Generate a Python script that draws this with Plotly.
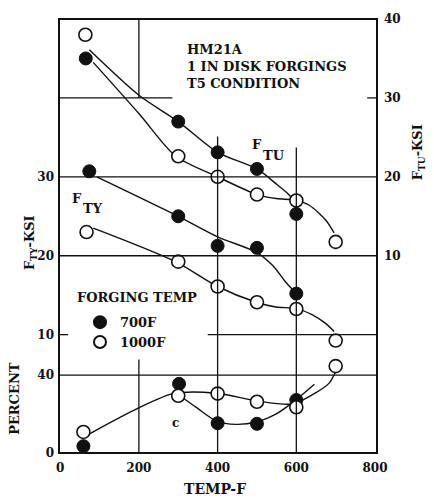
import plotly.graph_objects as go

# ---------------- data ----------------
temp_pts = [65, 300, 400, 500, 600]
temp_pts_open = [64, 300, 400, 500, 600, 700]

# F_TU (ksi) measured points
ftu_700 = [35.0, 27.0, 23.1, 21.0, 15.3]
ftu_1000 = [38.0, 22.6, 20.0, 17.75, 17.0, 11.75]
# F_TY (ksi) measured points
fty_700 = [30.7, 25.0, 21.25, 21.0, 15.2]
fty_1000 = [23.0, 19.25, 16.1, 14.1, 13.25, 9.25]
# elongation (percent) measured points
pct_700 = [3.5, 35.5, 15.3, 15.0, 27.2]
pct_1000 = [10.8, 29.4, 30.5, 26.3, 23.5, 44.6]

# faired curves drawn through the points
ftu_700_ct = [74, 201, 300, 400, 500, 549, 578, 595]
ftu_700_cv = [36.1, 30.3, 27.0, 23.1, 21.0, 19.1, 17.9, 17.0]
ftu_1000_ct = [84, 202, 294, 400, 500, 549, 600, 633, 675, 696]
ftu_1000_cv = [34.5, 27.9, 22.6, 20.0, 17.75, 17.25, 17.0, 16.4, 14.5, 12.9]
fty_700_ct = [93, 300, 400, 500, 540, 574, 600]
fty_700_cv = [30.0, 25.0, 22.4, 20.4, 18.75, 16.6, 15.2]
fty_1000_ct = [84, 295, 400, 498, 548, 600, 641, 675, 696]
fty_1000_cv = [23.5, 19.2, 16.1, 14.1, 13.5, 13.3, 12.5, 11.4, 10.4]
pct_1000_ct = [76, 202, 287, 397, 498, 591, 650, 684, 700]
pct_1000_cv = [10.0, 23.4, 30.5, 30.7, 26.8, 25.2, 31.0, 36.0, 42.0]
pct_700_ct = [304, 346, 397, 447, 498, 549, 591, 646]
pct_700_cv = [29.4, 23.4, 16.4, 14.7, 15.9, 20.1, 26.0, 35.3]

x_ticks = [0, 200, 400, 600, 800]
fty_ticks = [10, 20, 30]
ftu_ticks = [10, 20, 30, 40]
pct_ticks = [0, 40]

FONT = "DejaVu Serif"
INK = "#111111"

fig = go.Figure()

line_style = dict(color=INK, width=1.4, shape="spline", smoothing=0.8)
for xs, ys, ax in [(ftu_700_ct, ftu_700_cv, "y2"), (ftu_1000_ct, ftu_1000_cv, "y2"),
                   (fty_700_ct, fty_700_cv, "y"), (fty_1000_ct, fty_1000_cv, "y"),
                   (pct_1000_ct, pct_1000_cv, "y3"), (pct_700_ct, pct_700_cv, "y3")]:
    fig.add_trace(go.Scatter(x=xs, y=ys, yaxis=ax, mode="lines", line=line_style,
                             showlegend=False, hoverinfo="skip"))

filled = dict(symbol="circle", size=13, color=INK, line=dict(color=INK, width=1))
opened = dict(symbol="circle", size=13, color="white", line=dict(color=INK, width=1.6))

fig.add_trace(go.Scatter(x=temp_pts, y=ftu_700, yaxis="y2", mode="markers", marker=filled,
                         name="700F", legendgroup="a", showlegend=True))
fig.add_trace(go.Scatter(x=temp_pts_open, y=ftu_1000, yaxis="y2", mode="markers", marker=opened,
                         name="1000F", legendgroup="b", showlegend=True))
fig.add_trace(go.Scatter(x=[74, 300, 400, 500, 600], y=fty_700, yaxis="y", mode="markers",
                         marker=filled, name="700F", legendgroup="a", showlegend=False))
fig.add_trace(go.Scatter(x=[67, 300, 400, 500, 600, 700], y=fty_1000, yaxis="y", mode="markers",
                         marker=opened, name="1000F", legendgroup="b", showlegend=False))
fig.add_trace(go.Scatter(x=[59, 302, 400, 500, 600], y=pct_700, yaxis="y3", mode="markers",
                         marker=filled, name="700F", legendgroup="a", showlegend=False))
fig.add_trace(go.Scatter(x=[59, 300, 400, 500, 600, 700], y=pct_1000, yaxis="y3", mode="markers",
                         marker=opened, name="1000F", legendgroup="b", showlegend=False))

# partial grid lines as in the original drawing (in data units)
grid = dict(color=INK, width=1.3)
shapes = [
    dict(type="line", xref="x", yref="y", x0=-3, x1=285, y0=40, y1=40, line=grid),
    dict(type="line", xref="x", yref="y", x0=780, x1=805, y0=40, y1=40, line=grid),
    dict(type="line", xref="x", yref="y", x0=-3, x1=805, y0=30, y1=30, line=grid),
    dict(type="line", xref="x", yref="y", x0=-3, x1=805, y0=20, y1=20, line=grid),
    dict(type="line", xref="x", yref="y", x0=-3, x1=20, y0=10, y1=10, line=grid),
    dict(type="line", xref="x", yref="y", x0=375, x1=805, y0=10, y1=10, line=grid),
    dict(type="line", xref="x", yref="y3", x0=-3, x1=805, y0=40, y1=40, line=grid),
    dict(type="line", xref="x", yref="y", x0=200, x1=200, y0=40, y1=50, line=grid),
    dict(type="line", xref="x", yref="y3", x0=200, x1=200, y0=0, y1=48, line=grid),
    dict(type="line", xref="x", yref="y", x0=400, x1=400, y0=-5, y1=35.1, line=grid),
    dict(type="line", xref="x", yref="y", x0=600, x1=600, y0=-5, y1=33.7, line=grid),
    dict(type="rect", xref="paper", yref="paper", x0=0, x1=1, y0=0, y1=1,
         line=dict(color=INK, width=2)),
]

tf = dict(family=FONT, size=12, color=INK, weight="bold")
bf13 = dict(family=FONT, size=13, color=INK, weight="bold")
annotations = [
    dict(xref="x", yref="y", x=318, y=44.0, xanchor="left", yanchor="middle", align="left",
         showarrow=False, text="HM21A<br>1 IN DISK FORGINGS<br>T5 CONDITION", font=bf13),
    dict(xref="x", yref="y", x=483, y=34.1, xanchor="left", yanchor="middle", showarrow=False,
         text="F", font=bf13),
    dict(xref="x", yref="y", x=510, y=32.75, xanchor="left", yanchor="middle", showarrow=False,
         text="TU", font=bf13),
    dict(xref="x", yref="y", x=26, y=27.25, xanchor="left", yanchor="middle", showarrow=False,
         text="F", font=bf13),
    dict(xref="x", yref="y", x=53, y=26.0, xanchor="left", yanchor="middle", showarrow=False,
         text="TY", font=bf13),
    dict(xref="x", yref="y3", x=292, y=15.5, xanchor="center", yanchor="middle", showarrow=False,
         text="c", font=dict(family=FONT, size=12, color=INK, weight="bold")),
    dict(xref="paper", yref="paper", x=0.049, y=0.358, xanchor="left", yanchor="middle",
         showarrow=False, text="FORGING TEMP", font=bf13),
    dict(xref="paper", yref="paper", x=0.49, y=-0.084, xanchor="center", yanchor="middle",
         showarrow=False, text="TEMP-F", font=dict(family=FONT, size=14, color=INK, weight="bold")),
    dict(xref="paper", yref="paper", x=-0.088, y=0.484, xanchor="center", yanchor="middle",
         showarrow=False, textangle=-90, text="F<sub>TY</sub>-KSI", font=bf13),
    dict(xref="paper", yref="paper", x=-0.138, y=0.125, xanchor="center", yanchor="middle",
         showarrow=False, textangle=-90, text="PERCENT", font=bf13),
    dict(xref="paper", yref="paper", x=1.129, y=0.693, xanchor="center", yanchor="middle",
         showarrow=False, textangle=-90, text="F<sub>TU</sub>-KSI", font=bf13),
]

axis_common = dict(showgrid=False, zeroline=False, showline=False, ticks="",
                   tickfont=tf, fixedrange=True)

fig.update_layout(
    width=434, height=504,
    margin=dict(l=59, r=57, t=13, b=51),
    paper_bgcolor="white", plot_bgcolor="white",
    font=dict(family=FONT, color=INK),
    xaxis=dict(range=[-3, 805], tickvals=x_ticks, ticklabelstandoff=6, **axis_common),
    yaxis=dict(range=[-5, 50], tickvals=fty_ticks, ticklabelstandoff=4, **axis_common),
    yaxis2=dict(range=[-15, 40], tickvals=ftu_ticks, overlaying="y", side="right",
                ticklabelstandoff=6, **axis_common),
    yaxis3=dict(range=[0, 222.8], tickvals=pct_ticks, overlaying="y", side="left",
                ticklabelstandoff=4, **axis_common),
    legend=dict(x=0.066, y=0.336, xanchor="left", yanchor="top", bgcolor="rgba(0,0,0,0)",
                font=bf13, tracegroupgap=0, itemsizing="constant"),
    shapes=shapes,
    annotations=annotations,
    showlegend=True,
)

fig.write_html("out.html")
